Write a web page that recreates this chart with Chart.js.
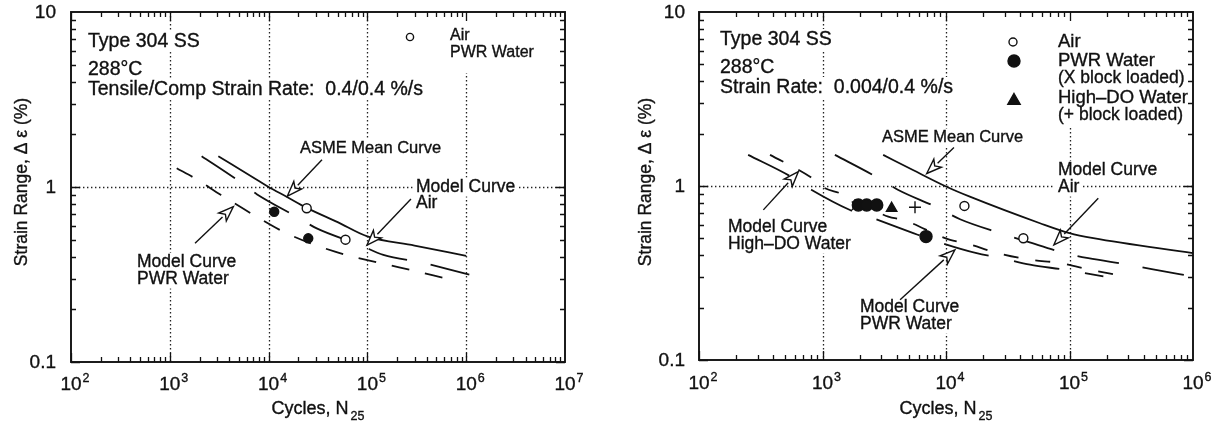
<!DOCTYPE html>
<html>
<head>
<meta charset="utf-8">
<script src="https://cdn.jsdelivr.net/npm/chart.js@4/dist/chart.umd.min.js"></script>
<style>
  html, body { margin: 0; padding: 0; background: #fff; }
  #wrap { position: relative; width: 1223px; height: 429px; background: #fff; }
  canvas { position: absolute; top: 0; }
  #left { left: 0; }
  #right { left: 620px; }
</style>
</head>
<body>
<div id="wrap">
  <canvas id="left" width="600" height="429" style="width:600px;height:429px"></canvas>
  <canvas id="right" width="603" height="429" style="width:603px;height:429px"></canvas>
</div>
<script>
// ---------- Left panel: tensile/compressive strain rate 0.4/0.4 %/s ----------
const leftAsmeCycles  = [3100, 7600, 10000, 15200, 24300, 50000, 100000, 300000, 1000000];
const leftAsmeStrain  = [1.50, 1.10, 1.00, 0.88, 0.76, 0.63, 0.522, 0.463, 0.404];

const leftAirModelCycles = [2100, 4570, 7590, 19200, 30700, 84100, 145000, 368000, 611000, 1490000];
const leftAirModelStrain = [1.50, 1.12, 0.91, 0.676, 0.58, 0.466, 0.409, 0.369, 0.343, 0.301];

const leftPwrModelCycles = [1175, 1800, 3300, 7590, 15200, 47000, 140000, 292000, 586000];
const leftPwrModelStrain = [1.28, 1.12, 0.90, 0.676, 0.544, 0.427, 0.366, 0.333, 0.303];

const leftAirTestCycles = [24300, 60000];
const leftAirTestStrain = [0.756, 0.50];
const leftPwrTestCycles = [11400, 25200];
const leftPwrTestStrain = [0.722, 0.509];

// ---------- Right panel: strain rate 0.004/0.4 %/s ----------
const rightAsmeCycles = [3100, 5400, 10100, 15600, 57700, 100000, 156000, 1000000];
const rightAsmeStrain = [1.51, 1.235, 0.99, 0.868, 0.611, 0.536, 0.501, 0.411];

const rightAirModelCycles = [1260, 2660, 4110, 8410, 13000, 27400, 45000, 92000, 142000, 299000, 463000, 1000000];
const rightAirModelStrain = [1.51, 1.14, 0.949, 0.755, 0.644, 0.536, 0.48, 0.411, 0.385, 0.353, 0.333, 0.302];

const rightPwrModelCycles = [250, 546, 818, 1670, 2580, 5430, 8410, 17700, 27400, 47900, 92000, 188000];
const rightPwrModelStrain = [1.51, 1.14, 0.949, 0.728, 0.653, 0.536, 0.48, 0.411, 0.387, 0.353, 0.33, 0.302];

const rightHdoModelCycles = [376, 793, 1050, 1390, 3410, 4510, 10800, 14300, 26400, 47900, 83800, 156000, 282000];
const rightHdoModelStrain = [1.51, 1.13, 0.97, 0.908, 0.667, 0.638, 0.49, 0.47, 0.411, 0.377, 0.361, 0.327, 0.302];

const rightAirTestCycles = [14100, 42300];
const rightAirTestStrain = [0.768, 0.501];
const rightPwrTestCycles = [1950, 2280, 2750, 6890];
const rightPwrTestStrain = [0.778, 0.778, 0.778, 0.512];
const rightPwrBlockCycles = [1870];
const rightPwrBlockStrain = [0.77];
const rightHdoTestCycles = [3630];
const rightHdoTestStrain = [0.745];
const rightHdoBlockCycles = [5610];
const rightHdoBlockStrain = [0.755];

// ---------- Axis tick labels ----------
const leftCycleExponents  = ['2', '3', '4', '5', '6', '7'];
const rightCycleExponents = ['2', '3', '4', '5', '6'];
const strainTickValues = [0.1, 1, 10];
const strainTickLabels = ['0.1', '1', '10'];

const FONT = '"Liberation Sans", Arial, Helvetica, sans-serif';
const INK = '#111';

function toPoints(xs, ys) { return xs.map((x, i) => ({ x: x, y: ys[i] })); }

function curve(xs, ys, dash) {
  return {
    data: toPoints(xs, ys), showLine: true, borderColor: INK, borderWidth: 1.8,
    borderDash: dash, pointRadius: 0, cubicInterpolationMode: 'monotone', order: 2
  };
}
function markers(xs, ys, style, radius, fill) {
  return {
    data: toPoints(xs, ys), showLine: false, pointStyle: style, pointRadius: radius,
    pointBackgroundColor: fill, pointBorderColor: INK, pointBorderWidth: 1.4, order: 1
  };
}

function setFont(ctx, size) { ctx.font = size + 'px ' + FONT; }

// text with a hairline outline so glyphs carry the weight of the printed figure
function ink(ctx, text, x, y) {
  ctx.fillText(text, x, y);
  ctx.lineWidth = 0.35;
  ctx.strokeText(text, x, y);
}

function drawArrow(ctx, x0, y0, x1, y1) {
  const ang = Math.atan2(y1 - y0, x1 - x0);
  const len = 15, half = 5.5;
  const bx = x1 - len * Math.cos(ang), by = y1 - len * Math.sin(ang);
  ctx.save();
  ctx.strokeStyle = INK; ctx.lineWidth = 1.4; ctx.setLineDash([]);
  ctx.beginPath(); ctx.moveTo(x0, y0); ctx.lineTo(bx, by); ctx.stroke();
  ctx.beginPath();
  ctx.moveTo(x1, y1);
  ctx.lineTo(bx + half * Math.sin(ang), by - half * Math.cos(ang));
  ctx.lineTo(x1 - (len - 4) * Math.cos(ang), y1 - (len - 4) * Math.sin(ang));
  ctx.lineTo(bx - half * Math.sin(ang), by + half * Math.cos(ang));
  ctx.closePath();
  ctx.fillStyle = '#fff'; ctx.fill(); ctx.stroke();
  ctx.restore();
}

function drawLegendMark(ctx, m) {
  ctx.save();
  ctx.strokeStyle = INK; ctx.lineWidth = 1.4; ctx.setLineDash([]);
  ctx.beginPath();
  if (m.shape === 'triangle') {
    const r = m.r;
    ctx.moveTo(m.x, m.y - r);
    ctx.lineTo(m.x + r * 0.95, m.y + r * 0.65);
    ctx.lineTo(m.x - r * 0.95, m.y + r * 0.65);
    ctx.closePath();
  } else {
    ctx.arc(m.x, m.y, m.r, 0, Math.PI * 2);
  }
  ctx.fillStyle = m.fill; ctx.fill(); ctx.stroke();
  ctx.restore();
}

// Draws the boxed frame, inward ticks, dotted decade grid, labels and callouts.
function panelPlugin(cfg) {
  return {
    id: 'panel',
    beforeDatasetsDraw(chart) {
      const ctx = chart.ctx, a = chart.chartArea;
      const xs = chart.scales.x, ys = chart.scales.y;
      ctx.save();
      ctx.strokeStyle = '#222'; ctx.lineWidth = 1.3; ctx.setLineDash([1.4, 2.6]);
      for (let i = 1; i < cfg.exponents.length - 1; i++) {
        const px = Math.round(xs.getPixelForValue(Math.pow(10, +cfg.exponents[i]))) + 0.5;
        ctx.beginPath(); ctx.moveTo(px, a.top); ctx.lineTo(px, a.bottom); ctx.stroke();
      }
      const py = Math.round(ys.getPixelForValue(1)) + 0.5;
      ctx.beginPath(); ctx.moveTo(a.left, py); ctx.lineTo(a.right, py); ctx.stroke();
      ctx.restore();
      // white boxes behind the text so the dotted grid breaks around it
      ctx.save();
      ctx.fillStyle = '#fff';
      cfg.labels.forEach(l => {
        setFont(ctx, l.s);
        const w = ctx.measureText(l.t).width;
        ctx.fillRect(l.x - 3, l.y - l.s * 0.82, w + 6, l.s * 1.08);
      });
      (cfg.masks || []).forEach(r => ctx.fillRect(r[0], r[1], r[2], r[3]));
      ctx.restore();
    },
    afterDatasetsDraw(chart) {
      const ctx = chart.ctx, a = chart.chartArea;
      const xs = chart.scales.x, ys = chart.scales.y;
      ctx.save();
      ctx.setLineDash([]);
      ctx.strokeStyle = INK;
      // inward tick marks on all four sides
      ctx.lineWidth = 1.3;
      const e0 = +cfg.exponents[0], e1 = +cfg.exponents[cfg.exponents.length - 1];
      for (let e = e0; e < e1; e++) {
        for (let m = 1; m <= 9; m++) {
          const px = Math.round(xs.getPixelForValue(m * Math.pow(10, e))) + 0.5;
          const len = m === 1 ? 9 : 5;
          ctx.beginPath();
          ctx.moveTo(px, a.bottom); ctx.lineTo(px, a.bottom - len);
          ctx.moveTo(px, a.top); ctx.lineTo(px, a.top + len);
          ctx.stroke();
        }
      }
      for (let e = -1; e < 1; e++) {
        for (let m = 1; m <= 9; m++) {
          const py = Math.round(ys.getPixelForValue(m * Math.pow(10, e))) + 0.5;
          const len = m === 1 ? 9 : 5;
          ctx.beginPath();
          ctx.moveTo(a.left, py); ctx.lineTo(a.left + len, py);
          ctx.moveTo(a.right, py); ctx.lineTo(a.right - len, py);
          ctx.stroke();
        }
      }
      // frame
      ctx.lineWidth = 1.9;
      ctx.strokeRect(a.left, a.top, a.right - a.left, a.bottom - a.top);

      ctx.fillStyle = INK;
      // x tick labels: 10 with superscript exponent
      cfg.exponents.forEach(ex => {
        const px = xs.getPixelForValue(Math.pow(10, +ex));
        setFont(ctx, 19);
        ctx.textAlign = 'center'; ctx.textBaseline = 'alphabetic';
        const w = ctx.measureText('10').width;
        ink(ctx, '10', px, cfg.xTickBaseline);
        setFont(ctx, 12.5);
        ctx.textAlign = 'left';
        ink(ctx, ex, px + w / 2 + 1, cfg.xTickBaseline - 8);
      });
      // y tick labels
      setFont(ctx, 19);
      ctx.textAlign = 'right'; ctx.textBaseline = 'middle';
      strainTickValues.forEach((v, i) => {
        ink(ctx, strainTickLabels[i], a.left - cfg.yTickGap, ys.getPixelForValue(v) + 1);
      });
      // x title with subscript
      ctx.textBaseline = 'alphabetic';
      setFont(ctx, 18);
      const t1 = 'Cycles, N';
      const w1 = ctx.measureText(t1).width;
      setFont(ctx, 12.5);
      const w2 = ctx.measureText('25').width;
      const cx = (a.left + a.right) / 2 - (w1 + w2 + 2) / 2;
      setFont(ctx, 18); ctx.textAlign = 'left';
      ink(ctx, t1, cx, cfg.xTitleBaseline);
      setFont(ctx, 12.5);
      ink(ctx, '25', cx + w1 + 2, cfg.xTitleBaseline + 6);
      // y title
      ctx.save();
      ctx.translate(cfg.yTitleX, cfg.yTitleY);
      ctx.rotate(-Math.PI / 2);
      setFont(ctx, 17.5);
      ctx.textAlign = 'center'; ctx.textBaseline = 'middle';
      ink(ctx, 'Strain Range, \u0394 \u03b5 (%)', 0, 0);
      ctx.restore();
      // annotation text
      ctx.textAlign = 'left'; ctx.textBaseline = 'alphabetic';
      cfg.labels.forEach(l => { setFont(ctx, l.s); ink(ctx, l.t, l.x, l.y); });
      ctx.restore();
      // callout arrows, anchored in data units
      cfg.arrows.forEach(ar => {
        drawArrow(ctx,
          xs.getPixelForValue(ar.from[0]), ys.getPixelForValue(ar.from[1]),
          xs.getPixelForValue(ar.to[0]), ys.getPixelForValue(ar.to[1]));
      });
      cfg.legendMarks.forEach(m => drawLegendMark(ctx, m));
    }
  };
}

function buildChart(id, cfg, datasets) {
  return new Chart(document.getElementById(id), {
    type: 'scatter',
    data: { datasets: datasets },
    options: {
      responsive: false, animation: false, events: [],
      layout: { padding: { top: cfg.padTop, right: cfg.padRight, left: 0, bottom: 0 } },
      plugins: { legend: { display: false }, tooltip: { enabled: false } },
      scales: {
        x: {
          type: 'logarithmic', min: Math.pow(10, +cfg.exponents[0]),
          max: Math.pow(10, +cfg.exponents[cfg.exponents.length - 1]),
          grid: { display: false }, border: { display: false }, ticks: { display: false },
          afterFit(s) { s.height = cfg.xAxisHeight; }
        },
        y: {
          type: 'logarithmic', min: 0.1, max: 10,
          grid: { display: false }, border: { display: false }, ticks: { display: false },
          afterFit(s) { s.width = cfg.yAxisWidth; }
        }
      }
    },
    plugins: [panelPlugin(cfg)]
  });
}

const INFO = 19.5, NOTE = 17.5;

buildChart('left', {
  exponents: leftCycleExponents,
  padTop: 12, padRight: 35, xAxisHeight: 67, yAxisWidth: 71,
  xTickBaseline: 390, xTitleBaseline: 414, yTickGap: 15, yTitleX: 22, yTitleY: 182,
  labels: [
    { t: 'Type 304 SS', x: 88, y: 47, s: INFO },
    { t: '288\u00b0C', x: 88, y: 75, s: INFO },
    { t: 'Tensile/Comp Strain Rate:  0.4/0.4 %/s', x: 88, y: 95, s: INFO },
    { t: 'Air', x: 450, y: 40, s: 16 },
    { t: 'PWR Water', x: 450, y: 57, s: 16 },
    { t: 'ASME Mean Curve', x: 300, y: 153, s: 16.5 },
    { t: 'Model Curve', x: 416, y: 192, s: NOTE },
    { t: 'Air', x: 416, y: 208, s: NOTE },
    { t: 'Model Curve', x: 137, y: 267, s: NOTE },
    { t: 'PWR Water', x: 137, y: 284, s: NOTE }
  ],
  masks: [[400, 13, 135, 60]],
  arrows: [
    { from: [34700, 1.43], to: [15500, 0.888] },
    { from: [276000, 0.854], to: [99100, 0.466] },
    { from: [1800, 0.477], to: [4400, 0.772] }
  ],
  legendMarks: [{ shape: 'circle', x: 410, y: 37, r: 3.6, fill: '#fff' }]
}, [
  curve(leftAsmeCycles, leftAsmeStrain, []),
  curve(leftAirModelCycles, leftAirModelStrain, [40, 24]),
  curve(leftPwrModelCycles, leftPwrModelStrain, [18, 16]),
  markers(leftAirTestCycles, leftAirTestStrain, 'circle', 4.5, '#fff'),
  markers(leftPwrTestCycles, leftPwrTestStrain, 'circle', 4.5, INK)
]);

buildChart('right', {
  exponents: rightCycleExponents,
  padTop: 12, padRight: 30, xAxisHeight: 69, yAxisWidth: 79,
  xTickBaseline: 389, xTitleBaseline: 414, yTickGap: 14, yTitleX: 26, yTitleY: 182,
  labels: [
    { t: 'Type 304 SS', x: 100, y: 45, s: INFO },
    { t: '288\u00b0C', x: 100, y: 73, s: INFO },
    { t: 'Strain Rate:  0.004/0.4 %/s', x: 100, y: 93, s: INFO },
    { t: 'Air', x: 438, y: 47, s: 18.5 },
    { t: 'PWR Water', x: 438, y: 66, s: 18.5 },
    { t: '(X block loaded)', x: 438, y: 83, s: 17.5 },
    { t: 'High\u2013DO Water', x: 438, y: 103, s: 18.5 },
    { t: '(+ block loaded)', x: 438, y: 120, s: 17.5 },
    { t: 'ASME Mean Curve', x: 262, y: 142, s: 16.5 },
    { t: 'Model Curve', x: 438, y: 175, s: NOTE },
    { t: 'Air', x: 438, y: 192, s: NOTE },
    { t: 'Model Curve', x: 108, y: 232, s: NOTE },
    { t: 'High\u2013DO Water', x: 108, y: 249, s: NOTE },
    { t: 'Model Curve', x: 240, y: 312, s: NOTE },
    { t: 'PWR Water', x: 240, y: 329, s: NOTE }
  ],
  masks: [[380, 13, 190, 115]],
  arrows: [
    { from: [332, 0.729], to: [637, 1.208] },
    { from: [11600, 1.662], to: [6980, 1.18] },
    { from: [171000, 0.85], to: [74800, 0.459] },
    { from: [4250, 0.222], to: [11800, 0.43] }
  ],
  legendMarks: [
    { shape: 'circle', x: 393, y: 42, r: 4, fill: '#fff' },
    { shape: 'circle', x: 394, y: 61, r: 6, fill: INK },
    { shape: 'triangle', x: 394, y: 100, r: 6.5, fill: INK }
  ]
}, [
  curve(rightAsmeCycles, rightAsmeStrain, []),
  curve(rightAirModelCycles, rightAirModelStrain, [42, 24]),
  curve(rightPwrModelCycles, rightPwrModelStrain, [46, 26]),
  curve(rightHdoModelCycles, rightHdoModelStrain, [15, 17]),
  markers(rightAirTestCycles, rightAirTestStrain, 'circle', 4.5, '#fff'),
  markers(rightPwrTestCycles, rightPwrTestStrain, 'circle', 6, INK),
  markers(rightPwrBlockCycles, rightPwrBlockStrain, 'crossRot', 6, INK),
  markers(rightHdoTestCycles, rightHdoTestStrain, 'triangle', 6, INK),
  markers(rightHdoBlockCycles, rightHdoBlockStrain, 'cross', 6, INK)
]);
</script>
</body>
</html>
